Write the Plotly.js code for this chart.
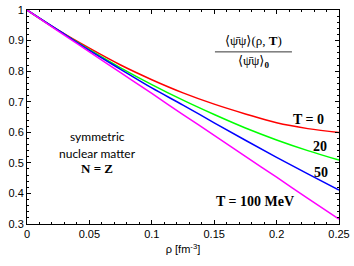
<!DOCTYPE html>
<html>
<head>
<meta charset="utf-8">
<script src="https://cdn.plot.ly/plotly-3.0.1.min.js"></script>
<style>html,body{margin:0;padding:0;background:#fff;}#chart{width:354px;height:266px;}</style>
</head>
<body>
<div id="chart"></div>
<script>
// density rho [fm^-3]
const rho = [0, 0.025, 0.05, 0.075, 0.1, 0.125, 0.15, 0.175, 0.2, 0.225, 0.25];
// condensate ratio for each temperature
const condT0   = [1, 0.934, 0.875, 0.820, 0.772, 0.729, 0.692, 0.660, 0.631, 0.612, 0.599];
const condT20  = [1, 0.933, 0.870, 0.811, 0.756, 0.705, 0.658, 0.614, 0.575, 0.540, 0.509];
const condT50  = [1, 0.934, 0.868, 0.806, 0.745, 0.689, 0.631, 0.574, 0.518, 0.464, 0.411];
const condT100 = [1, 0.931, 0.863, 0.795, 0.727, 0.658, 0.590, 0.521, 0.453, 0.384, 0.316];
const seriesNames = ['T = 0', '20', '50', 'T = 100 MeV'];
const seriesColors = ['#ff0000', '#00ff00', '#0000ff', '#ff00ff'];
const seriesData = [condT0, condT20, condT50, condT100];

const traces = seriesData.map((ys, i) => ({
  x: rho, y: ys, type: 'scatter', mode: 'lines', name: seriesNames[i],
  line: {color: seriesColors[i], width: 1.5, shape: 'spline'}, showlegend: false
}));

const serif = 'Liberation Serif, DejaVu Serif, serif';
const sans = 'Liberation Sans, Arial, sans-serif';
const lab = (x, y, text, font) => ({x, y, xref: 'x', yref: 'y', text, showarrow: false, font});
const mathFont = {family: serif, size: 14, color: '#000'};

const layout = {
  width: 354, height: 266,
  margin: {l: 27, r: 15, t: 10, b: 42},
  paper_bgcolor: '#fff', plot_bgcolor: '#fff',
  font: {family: sans, size: 11, color: '#000'},
  xaxis: {
    range: [0, 0.25], dtick: 0.05, tick0: 0,
    ticks: 'inside', ticklen: 4, tickwidth: 1, tickcolor: '#000',
    minor: {dtick: 0.01, ticks: 'inside', ticklen: 2, tickcolor: '#000'},
    showline: true, linecolor: '#000', linewidth: 1, mirror: 'allticks',
    showgrid: false, zeroline: false,
    tickfont: {family: sans, size: 11, color: '#000'},
    title: {text: 'ρ [fm<sup>-3</sup>]', font: {family: sans, size: 11, color: '#000'}, standoff: 6}
  },
  yaxis: {
    range: [0.3, 1], dtick: 0.1, tick0: 0.3,
    ticks: 'inside', ticklen: 4, tickwidth: 1, tickcolor: '#000',
    minor: {dtick: 0.02, ticks: 'inside', ticklen: 2, tickcolor: '#000'},
    showline: true, linecolor: '#000', linewidth: 1, mirror: 'allticks',
    showgrid: false, zeroline: false,
    tickfont: {family: sans, size: 11, color: '#000'}
  },
  annotations: [
    lab(0.1811, 0.899, '⟨ψ&#772;ψ⟩(ρ, <b>T</b>)', {family: serif, size: 13, color: '#000'}),
    lab(0.1811, 0.830, '⟨ψ&#772;ψ⟩<sub><b>0</b></sub>', {family: serif, size: 13, color: '#000'}),
    lab(0.2252, 0.643, '<b>T = 0</b>', mathFont),
    lab(0.2348, 0.555, '<b>20</b>', mathFont),
    lab(0.2356, 0.467, '<b>50</b>', mathFont),
    lab(0.1827, 0.375, '<b>T = 100 MeV</b>', mathFont),
    lab(0.0561, 0.585, 'symmetric', {family: 'Lato, sans-serif', size: 12, color: '#000'}),
    lab(0.0561, 0.532, 'nuclear matter', {family: 'Lato, sans-serif', size: 12, color: '#000'}),
    lab(0.0561, 0.480, '<b>N = Z</b>', {family: serif, size: 13, color: '#000'})
  ],
  shapes: [
    {type: 'line', xref: 'x', yref: 'y', x0: 0.1506, x1: 0.2123, y0: 0.863, y1: 0.863,
     line: {color: '#000', width: 0.8}}
  ]
};

Plotly.newPlot('chart', traces, layout, {displayModeBar: false, staticPlot: true});
</script>
</body>
</html>
